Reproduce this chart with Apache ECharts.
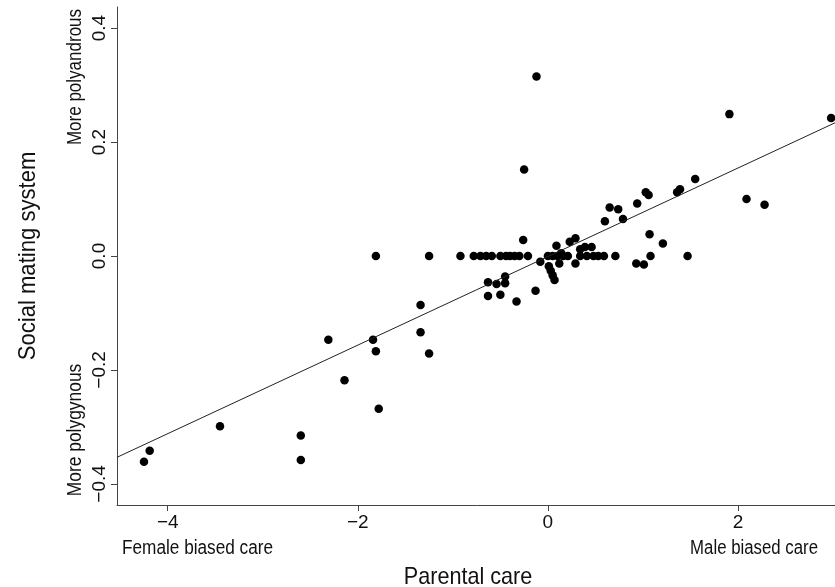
<!DOCTYPE html>
<html><head><meta charset="utf-8">
<script src="https://cdn.jsdelivr.net/npm/echarts@6/dist/echarts.min.js"></script>
<style>html,body{margin:0;padding:0;background:#fff}#c{width:835px;height:587px}</style>
</head><body><div id="c"></div>
<script>
// Parental care (x) and social mating system (y) for each species
const parentalCare = [
  // points lying on y = 0
  -1.81, -1.25, -0.92, -0.78, -0.71, -0.65, -0.59, -0.50, -0.44, -0.40, -0.35, -0.30, -0.21,
  0.00, 0.05, 0.10, 0.16, 0.21, 0.34, 0.41, 0.48, 0.53, 0.59, 0.71, 1.08, 1.47,
  // other points
  -0.26, -0.08, 0.01, 0.03, 0.05, 0.07, 0.09, 0.12, 0.14, 0.23, 0.29, 0.29, 0.34, 0.39, 0.46,
  0.60, 0.65, 0.74, 0.79, 0.94, 1.03, 1.06, 1.36, 1.39, 1.55, 1.07, 1.21, 0.93, 1.01,
  1.91, 2.98, 2.09, 2.28, -0.12, -0.25,
  -0.63, -0.54, -0.45, -0.45, -0.63, -0.50, -0.33, -0.13,
  -1.34, -1.34, -1.25, -1.84, -1.81, -2.31, -2.14, -1.78, -2.60, -2.60, -3.45, -4.19, -4.25
];
const matingSystem = [
  0, 0, 0, 0, 0, 0, 0, 0, 0, 0, 0, 0, 0,
  0, 0, 0, 0, 0, 0, 0, 0, 0, 0, 0, 0, 0,
  0.028, -0.010, -0.018, -0.026, -0.034, -0.042, 0.018, -0.013, 0.005, 0.025, 0.031, -0.013, 0.012, 0.016, 0.016,
  0.061, 0.085, 0.082, 0.065, 0.092, 0.112, 0.107, 0.112, 0.117, 0.135, 0.038, 0.022, -0.013, -0.015,
  0.249, 0.242, 0.100, 0.090, 0.315, 0.152,
  -0.046, -0.049, -0.036, -0.048, -0.070, -0.068, -0.080, -0.061,
  -0.086, -0.134, -0.171, -0.147, -0.167, -0.147, -0.218, -0.268, -0.315, -0.358, -0.299, -0.342, -0.361
];
const xTicks = [-4, -2, 0, 2];
const yTicks = [-0.4, -0.2, 0.0, 0.2, 0.4];
const regIntercept = -0.001;
const regSlope = 0.0777;

const xMin = -4.534, xMax = 3.2, yMin = -0.437, yMax = 0.437;
const FONT = "'Liberation Sans', Arial, Helvetica, sans-serif";
const minus = s => s.replace('-', '\u2212');

const points = parentalCare.map((x, i) => [x, matingSystem[i]]);
const fitLine = [[xMin, regIntercept + regSlope * xMin], [xMax, regIntercept + regSlope * xMax]];

const txt = (text, x, y, opts) => Object.assign({
  type: 'text', x: x, y: y, scaleX: opts.sx || 1, rotation: opts.rot || 0,
  style: {text: text, fontSize: opts.fs || 20, fontFamily: FONT, fill: '#111',
          align: opts.align || 'center', verticalAlign: 'middle'}
});

const chart = echarts.init(document.getElementById('c'), null, {renderer: 'canvas'});
chart.setOption({
  animation: false,
  backgroundColor: '#fff',
  grid: {left: 117, top: 7, width: 735, height: 498, containLabel: false, outerBoundsMode: 'none'},
  xAxis: {
    type: 'value', min: xMin, max: xMax,
    axisLine: {show: true, onZero: false, lineStyle: {color: '#444', width: 1}},
    axisTick: {show: true, customValues: xTicks, length: 6, lineStyle: {color: '#444'}},
    axisLabel: {show: true, customValues: xTicks, margin: 8, fontSize: 19, color: '#111', fontFamily: FONT,
      formatter: v => minus(String(v))},
    splitLine: {show: false}
  },
  yAxis: {
    type: 'value', min: yMin, max: yMax,
    axisLine: {show: true, onZero: false, lineStyle: {color: '#444', width: 1}},
    axisTick: {show: true, customValues: yTicks, length: 6, lineStyle: {color: '#444'}},
    axisLabel: {show: true, customValues: yTicks, rotate: 90, margin: 8, fontSize: 19, color: '#111', fontFamily: FONT,
      formatter: v => minus(Number(v).toFixed(1))},
    splitLine: {show: false}
  },
  series: [
    {type: 'line', data: fitLine, showSymbol: false, silent: true, clip: true,
     lineStyle: {color: '#222', width: 1}},
    {type: 'scatter', data: points, symbol: 'circle', symbolSize: 8.5,
     itemStyle: {color: '#000', opacity: 1}}
  ],
  graphic: [
    txt('Social mating system', 28, 256, {rot: Math.PI / 2, fs: 24, sx: 0.92}),
    txt('Parental care', 468, 577, {fs: 24, sx: 0.9}),
    txt('More polyandrous', 75, 77, {rot: Math.PI / 2, fs: 20, sx: 0.85}),
    txt('More polygynous', 75, 430, {rot: Math.PI / 2, fs: 20, sx: 0.87}),
    txt('Female biased care', 122, 548, {fs: 20, sx: 0.86, align: 'left'}),
    txt('Male biased care', 818, 548, {fs: 20, sx: 0.84, align: 'right'})
  ]
});
</script>
</body></html>
